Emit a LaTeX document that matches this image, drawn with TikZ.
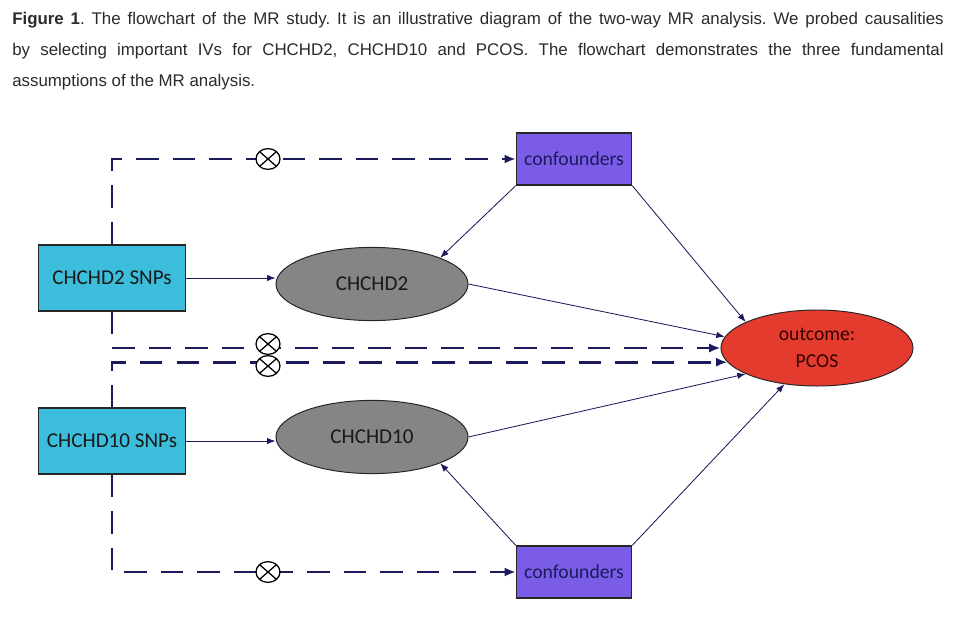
\documentclass[tikz,border=0pt]{standalone}
\usepackage{fontspec}
\setmainfont{Liberation Sans}
\newfontfamily\boxfont{Carlito}
\usetikzlibrary{arrows.meta,positioning,shapes.geometric}
\definecolor{linenavy}{HTML}{1B1B5C}
\definecolor{snpcyan}{HTML}{3CBDDB}
\definecolor{confpurple}{HTML}{7A5CE6}
\definecolor{genegrey}{HTML}{858585}
\definecolor{outred}{HTML}{E33B2E}
\definecolor{capgrey}{HTML}{2A2A2A}
\frenchspacing

\begin{document}
\begin{tikzpicture}[x=0.025cm,y=-0.025cm,
  snpbox/.style={draw=black!85, line width=0.9pt, fill=snpcyan, minimum width=3.68cm, minimum height=1.65cm, inner sep=0pt, text=black!90, font=\boxfont\fontsize{15}{18}\selectfont},
  confbox/.style={draw=black!85, line width=0.9pt, fill=confpurple, minimum width=2.88cm, minimum height=1.3cm, inner sep=0pt, text=linenavy, font=\boxfont\fontsize{14}{17}\selectfont},
  geneoval/.style={ellipse, draw=black!85, line width=0.7pt, fill=genegrey, minimum width=4.8cm, minimum height=1.83cm, inner sep=0pt, text=black!90, font=\boxfont\fontsize{15}{18}\selectfont},
  outoval/.style={ellipse, draw=black!85, line width=0.7pt, fill=outred, minimum width=4.8cm, minimum height=1.9cm, inner sep=0pt, align=center, text=black!80!red, font=\boxfont\fontsize{14}{19}\selectfont},
  thinarrow/.style={linenavy, line width=0.6pt, -{Latex[length=6pt,width=4.5pt]}},
  dashline/.style={linenavy, line width=2pt, dash pattern=on 16pt off 10pt},
  dasharrow/.style={dashline, -{Latex[length=8pt,width=6.5pt]}},
  xmark/.style={ellipse, draw=black, line width=0.9pt, fill=white, minimum width=0.6cm, minimum height=0.52cm, inner sep=0pt,
    path picture={\draw[line width=0.9pt] (path picture bounding box.north west) -- (path picture bounding box.south east)
      (path picture bounding box.north east) -- (path picture bounding box.south west);}}]
\useasboundingbox (0,0) rectangle (976,632);

\node[anchor=north west, inner sep=0pt, text width=23.28cm, align=justify, text=capgrey, font=\fontsize{12}{22}\selectfont] (caption) at (12,12) {\textbf{Figure 1}. The flowchart of the MR study. It is an illustrative diagram of the two-way MR analysis. We probed causalities\linebreak by selecting important IVs for CHCHD2, CHCHD10 and PCOS. The flowchart demonstrates the three fundamental\linebreak assumptions of the MR analysis.};

\node[snpbox] (snp2) at (112,278) {CHCHD2 SNPs};
\node[snpbox] (snp10) at (112,441) {CHCHD10 SNPs};
\node[geneoval] (gene2) at (372,284) {CHCHD2};
\node[geneoval] (gene10) at (372,437) {CHCHD10};
\node[confbox] (conf1) at (574,159) {confounders};
\node[confbox] (conf2) at (574,572) {confounders};
\node[outoval] (outcome) at (817,348) {outcome:\\PCOS};

\draw[thinarrow] (snp2.east) -- (gene2.west |- snp2.east);
\draw[thinarrow] (snp10.east) -- (gene10.west |- snp10.east);
\draw[thinarrow] (conf1.south west) -- (gene2.north east);
\draw[thinarrow] (conf1.south east) -- (outcome.160);
\draw[thinarrow] (gene2.east) -- (outcome.173);
\draw[thinarrow] (gene10.east) -- (outcome.200);
\draw[thinarrow] (conf2.north west) -- (gene10.south east);
\draw[thinarrow] (conf2.north east) -- (outcome.228);

\draw[dasharrow] (snp2.north) |- (conf1.west);
\draw[dasharrow] (snp2.south) |- (outcome.west);
\draw[dasharrow] (snp10.north) |- (outcome.189);
\draw[dasharrow] (snp10.south) |- (conf2.west);

\node[xmark] (mk1) at (268,159) {};
\node[xmark] (mk2) at (268,344) {};
\node[xmark] (mk3) at (268,366) {};
\node[xmark] (mk4) at (268,572) {};
\end{tikzpicture}
\end{document}
